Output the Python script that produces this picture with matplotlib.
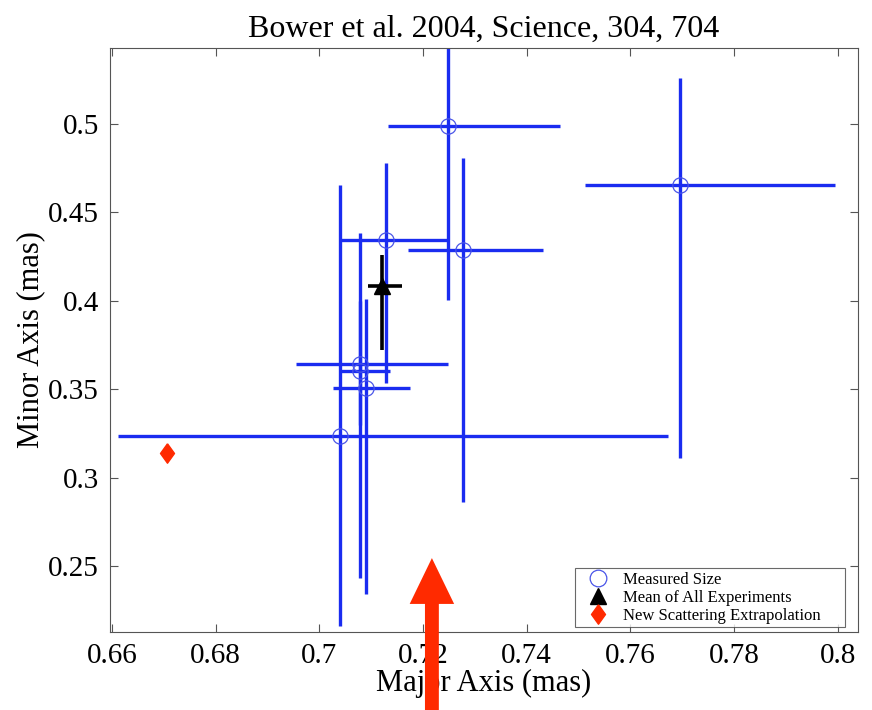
import numpy as np
import matplotlib
matplotlib.use('Agg')
import matplotlib.pyplot as plt
from matplotlib.lines import Line2D

plt.rcParams['font.family'] = ['Liberation Serif', 'DejaVu Serif']

# measured sizes (major, minor) with asymmetric error bar ends
major = [0.7248, 0.7695, 0.7128, 0.7277, 0.7078, 0.7078, 0.7090, 0.7040]
minor = [0.4989, 0.4655, 0.4344, 0.4287, 0.3643, 0.3603, 0.3507, 0.3235]
major_lo = [0.7132, 0.7512, 0.7040, 0.7171, 0.6955, 0.7040, 0.7026, 0.6612]
major_hi = [0.7464, 0.7994, 0.7246, 0.7431, 0.7248, 0.7136, 0.7175, 0.7672]
minor_lo = [0.4005, 0.3111, 0.3535, 0.2862, 0.2432, 0.3300, 0.2342, 0.2161]
minor_hi = [0.5600, 0.5260, 0.4779, 0.4808, 0.4383, 0.4000, 0.4010, 0.4655]

# mean of all experiments
mean_major = 0.7121
mean_minor = 0.4084
mean_major_lo, mean_major_hi = 0.7094, 0.7159
mean_minor_lo, mean_minor_hi = 0.3722, 0.4259

# new scattering extrapolation
scat_major = 0.6706
scat_minor = 0.3139

arrow_x = 0.7217
arrow_tip = 0.2545

# tall diamond like the original marker
diamond = [(0, 1), (0.72, 0), (0, -1), (-0.72, 0), (0, 1)]

fig = plt.figure(figsize=(8.72, 7.1), dpi=100)
ax = fig.add_axes([110/872, 1 - 632/710, 748/872, 584/710])

maj = np.array(major)
mnr = np.array(minor)
xerr = [maj - np.array(major_lo), np.array(major_hi) - maj]
yerr = [mnr - np.array(minor_lo), np.array(minor_hi) - mnr]
ax.errorbar(maj, mnr, xerr=xerr, yerr=yerr, fmt='none', ecolor='#1a2cf0',
            elinewidth=2.4, capsize=0, zorder=2)
ax.plot(maj, mnr, 'o', ms=11, mfc='none', mec='#4a55e8', mew=0.9, zorder=3)

ax.errorbar([mean_major], [mean_minor],
            xerr=[[mean_major - mean_major_lo], [mean_major_hi - mean_major]],
            yerr=[[mean_minor - mean_minor_lo], [mean_minor_hi - mean_minor]],
            fmt='^', color='black', ms=11, elinewidth=2.6, capsize=0, zorder=4)

ax.plot([scat_major], [scat_minor], marker=diamond, ls='none', color='#ff2a00',
        ms=14, zorder=4)

ax.annotate('', xy=(arrow_x, arrow_tip), xycoords='data',
            xytext=(arrow_x, -0.75), textcoords=('data', 'axes fraction'),
            arrowprops=dict(arrowstyle='simple,head_width=3.2,head_length=3.3,tail_width=1.0',
                            color='#ff2a00', lw=0, shrinkA=0, shrinkB=0),
            annotation_clip=False, zorder=10)

ax.set_xlim(0.6596, 0.8039)
ax.set_ylim(0.2127, 0.543)
ax.set_xticks(np.arange(0.66, 0.801, 0.02))
ax.set_xticklabels(['0.66', '0.68', '0.7', '0.72', '0.74', '0.76', '0.78', '0.8'])
ax.set_yticks([0.25, 0.3, 0.35, 0.4, 0.45, 0.5])
ax.set_yticklabels(['0.25', '0.3', '0.35', '0.4', '0.45', '0.5'])
ax.tick_params(direction='in', top=True, right=True, labelsize=21, length=6,
               width=0.8, color='#555555', pad=8)
for s in ax.spines.values():
    s.set_color('#555555')
    s.set_linewidth(0.8)

ax.set_xlabel('Major Axis (mas)', fontsize=22, labelpad=0)
ax.set_ylabel('Minor Axis (mas)', fontsize=22, labelpad=2)
ax.set_title('Bower et al. 2004, Science, 304, 704', fontsize=23, pad=8)

handles = [
    Line2D([], [], marker='o', ls='none', ms=12, mfc='none', mec='#4a55e8', mew=0.9),
    Line2D([], [], marker='^', ls='none', ms=12, color='black'),
    Line2D([], [], marker=diamond, ls='none', ms=14, color='#ff2a00'),
]
leg = ax.legend(handles, ['Measured Size', 'Mean of All Experiments', 'New Scattering Extrapolation'],
                loc='lower left', bbox_to_anchor=(0.6217, 0.0086, 0.361, 0.103),
                mode='expand', fontsize=12,
                frameon=True, fancybox=False, borderpad=0.2, labelspacing=0.12,
                handletextpad=0.3, handlelength=2.4, borderaxespad=0)
leg.get_frame().set_edgecolor('#444444')
leg.get_frame().set_linewidth(0.8)

fig.savefig('out.png', dpi=100)
